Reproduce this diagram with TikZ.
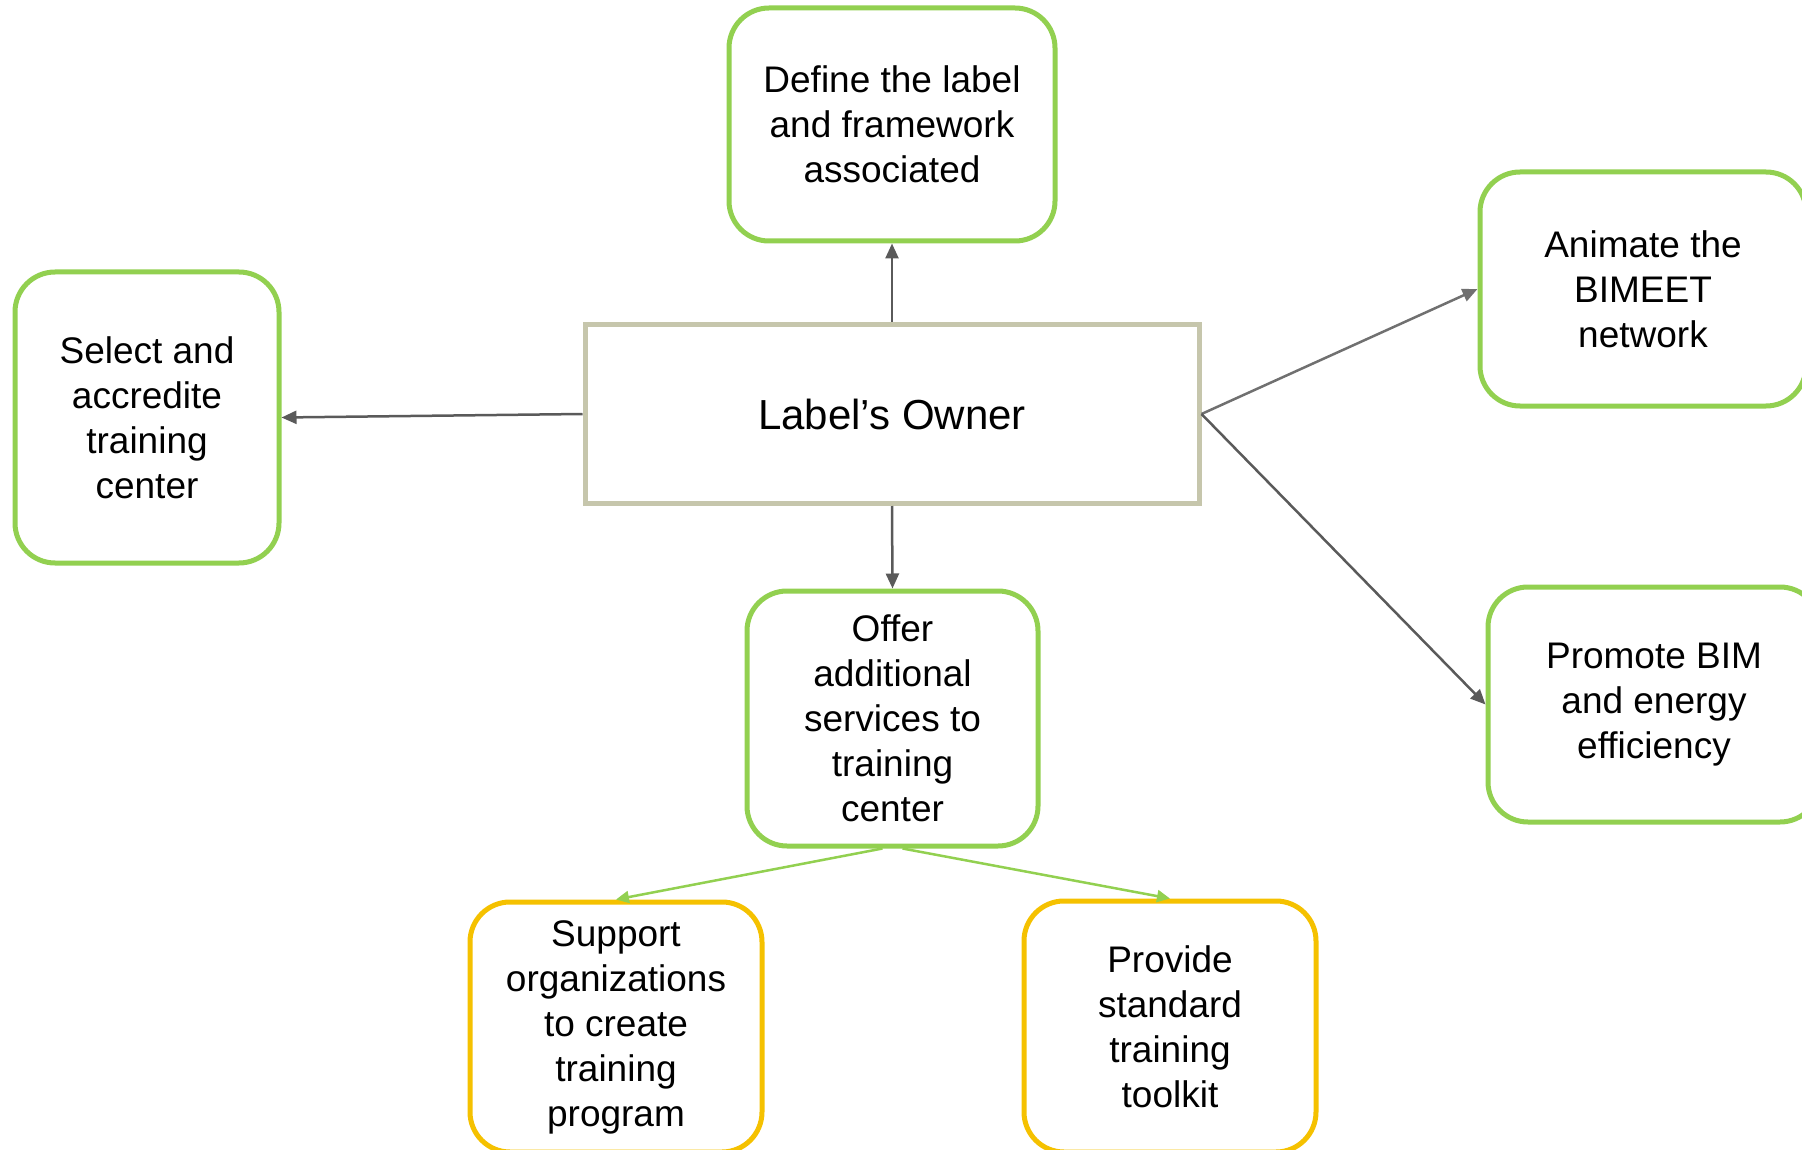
\documentclass[tikz,border=0pt]{standalone}
\usepackage{fontspec}
\setmainfont{Liberation Sans}
\usetikzlibrary{arrows.meta}
\definecolor{boxgreen}{HTML}{92D050}
\definecolor{boxgold}{HTML}{F5C100}
\definecolor{ownerline}{HTML}{C6C6AC}
\definecolor{arrgray}{HTML}{5A5A5A}
\definecolor{arrgraylt}{HTML}{707070}
\tikzset{
  greenbox/.style={draw=boxgreen, line width=5pt, rounded corners=40pt, fill=white, align=center, inner sep=0pt, font=\fontsize{37}{45}\selectfont},
  goldbox/.style={draw=boxgold, line width=5pt, rounded corners=40pt, fill=white, align=center, inner sep=0pt, font=\fontsize{37}{45}\selectfont},
  ownerbox/.style={draw=ownerline, line width=5pt, fill=white, align=center, inner sep=0pt, font=\fontsize{42}{50}\selectfont},
  grayarrow/.style={draw=arrgray, line width=2.5pt, -{Triangle[length=15pt,width=13pt]}},
  graylt/.style={draw=arrgraylt, line width=2.5pt, -{Triangle[length=15pt,width=13pt]}},
  greenarrow/.style={draw=boxgreen, line width=2.5pt, -{Triangle[length=13pt,width=12pt]}}
}
\begin{document}
\begin{tikzpicture}[x=1pt,y=-1pt]
\useasboundingbox (0,0) rectangle (1802,1150);
\clip (0,0) rectangle (1802,1150);
\node[greenbox, minimum width=326pt, minimum height=233pt] (def) at (892,124.5) {Define the label\\and framework\\associated};
\node[ownerbox, minimum width=614pt, minimum height=179pt] (own) at (892,414) {Label’s Owner};
\node[greenbox, minimum width=264pt, minimum height=291pt] (sel) at (147,417.5) {Select and\\accredite\\training\\center};
\node[greenbox, minimum width=326pt, minimum height=234pt] (ani) at (1643,289) {Animate the\\BIMEET\\network};
\node[greenbox, minimum width=332pt, minimum height=235pt] (pro) at (1654,704.5) {Promote BIM\\and energy\\efficiency};
\node[greenbox, minimum width=291pt, minimum height=255pt] (off) at (892.5,718.5) {Offer\\additional\\services to\\training\\center};
\node[goldbox, minimum width=292pt, minimum height=250pt] (sup) at (616,1027) {Support\\organizations\\to create\\training\\program};
\node[goldbox, minimum width=292pt, minimum height=251pt] (prov) at (1170,1026.5) {Provide\\standard\\training\\toolkit};
\draw[grayarrow] (own.north) -- (def.south);
\draw[grayarrow] (own.south) -- (off.north);
\draw[grayarrow] (own.west) -- (sel.east);
\draw[graylt] (own.east) -- (ani.west);
\draw[grayarrow] (own.east) -- (pro.west);
\draw[greenarrow] ([xshift=-10pt]off.south) -- (sup.north);
\draw[greenarrow] ([xshift=10pt]off.south) -- (prov.north);
\end{tikzpicture}
\end{document}
